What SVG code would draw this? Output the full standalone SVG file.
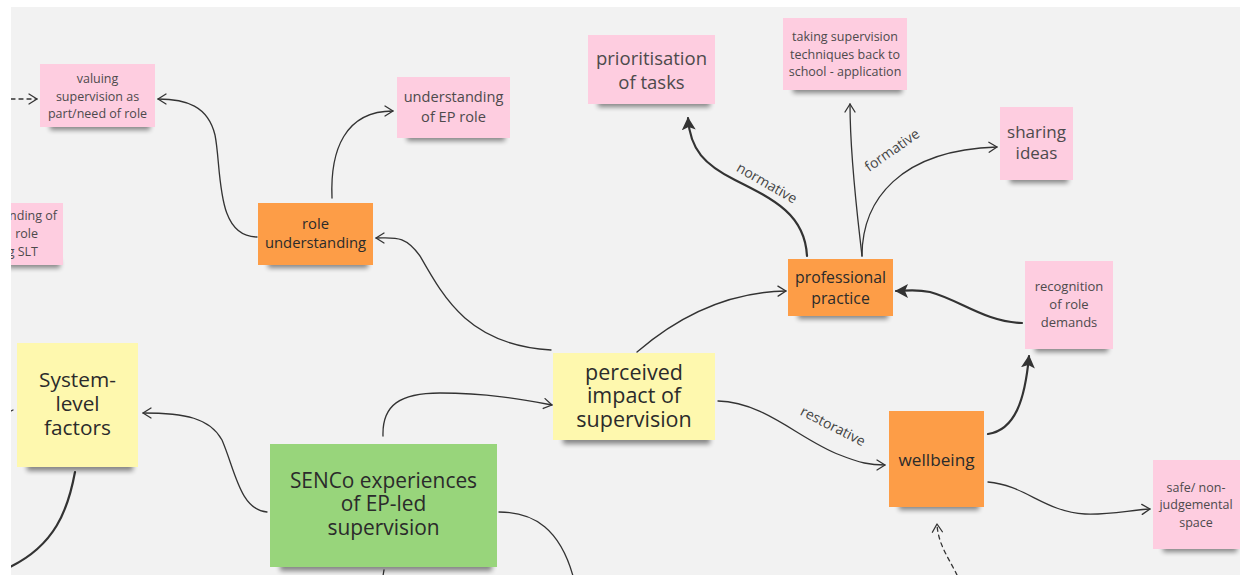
<svg xmlns="http://www.w3.org/2000/svg" width="1240" height="575" viewBox="0 0 1240 575">
  <style>
    text { font-family: "Open Sans", "Noto Sans", "Liberation Sans", sans-serif; text-anchor: middle; }
    .pink { fill: #fecde0; }
    .orange { fill: #fd9d47; }
    .yellow { fill: #fef8ae; }
    .green { fill: #98d57b; }
    .shade { fill: #000; opacity: 0.45; filter: url(#soft); }
    .ink-soft { fill: #4d4a4c; }
    .ink { fill: #2b2b2b; }
    .wire { fill: none; stroke: #333; stroke-width: 1.3; stroke-linecap: round; }
    .wire-bold { fill: none; stroke: #333; stroke-width: 2.2; stroke-linecap: round; }
    .dash { stroke-dasharray: 4 4; }
    .open { marker-end: url(#chevron); }
    .solid { marker-end: url(#head); }
    .tag { fill: #444; font-size: 14px; }
  </style>
  <defs>
    <filter id="soft" x="-20%" y="-100%" width="140%" height="300%">
      <feGaussianBlur stdDeviation="2.5"/>
    </filter>
    <marker id="chevron" markerUnits="userSpaceOnUse" markerWidth="12" markerHeight="14" refX="9" refY="6" orient="auto">
      <path d="M1,1 L9,6 L1,11" fill="none" stroke="#333" stroke-width="1.3" stroke-linecap="round" stroke-linejoin="round"/>
    </marker>
    <marker id="head" markerUnits="userSpaceOnUse" markerWidth="16" markerHeight="16" refX="12" refY="7" orient="auto">
      <path d="M0,0 L13,7 L0,14 L3,7 z" fill="#333"/>
    </marker>
    <clipPath id="board">
      <rect x="11" y="7" width="1229" height="568"/>
    </clipPath>
  </defs>

  <!-- canvas -->
  <rect x="0" y="0" width="1240" height="575" fill="#ffffff"/>
  <rect x="11" y="7" width="1229" height="568" fill="#f2f2f2"/>

  <g clip-path="url(#board)">
    <!-- connectors -->
    <g id="connectors">
      <path class="wire dash open" d="M11,99 L37,99"/>
      <path class="wire open" d="M257,237 C215,237 222,170 215,135 C208,106 186,99 158,99"/>
      <path class="wire open" d="M332,198 C330,150 345,111 393,111"/>
      <path class="wire open" d="M551,350 C470,345 445,300 420,256 C405,235 395,238 376,238"/>
      <path class="wire open" d="M637,352 C680,315 730,292 786,291"/>
      <path class="wire-bold solid" d="M807,256 C805,215 775,200 735,180 C705,165 690,150 688,118"/>
      <path class="wire open" d="M862,256 C858,220 850,160 850,104"/>
      <path class="wire open" d="M862,256 C862,200 900,150 997,147"/>
      <path class="wire-bold solid" d="M1022,323 C985,322 960,300 930,292 C915,289 905,291 896,291"/>
      <path class="wire-bold solid" d="M988,434 C1015,430 1025,400 1029,356"/>
      <path class="wire open" d="M718,401 C765,402 800,440 840,455 C860,463 870,465 885,465"/>
      <path class="wire open" d="M988,482 C1025,485 1045,512 1085,514 C1110,515 1130,510 1150,509"/>
      <path class="wire dash open" d="M957,575 C950,560 938,545 937,524"/>
      <path class="wire open" d="M267,512 C240,510 235,470 222,440 C210,418 185,413 143,413"/>
      <path class="wire-bold" d="M75,472 C68,510 55,545 10,567"/>
      <path class="wire open" d="M383,436 C382,405 400,393 440,393 C490,393 525,400 552,405"/>
      <path class="wire" d="M499,512 C535,512 560,530 573,576"/>
      <path class="wire" d="M384,570 L383,576"/>
      <path class="wire" d="M11,411 L13,410"/>
      <text class="tag" transform="translate(767,183) rotate(30)" dy="5">normative</text>
      <text class="tag" transform="translate(892,150) rotate(-35)" dy="5">formative</text>
      <text class="tag" transform="translate(833,426) rotate(27)" dy="5">restorative</text>
    </g>

    <!-- sticky notes -->
    <g id="valuing-supervision">
      <rect class="shade" x="50" y="122" width="100" height="8"/>
      <rect class="pink" x="40" y="64" width="115" height="63"/>
      <text class="ink-soft" font-size="12.5"><tspan x="97.5" y="83">valuing</tspan><tspan x="97.5" y="100.5">supervision as</tspan><tspan x="97.5" y="118">part/need of role</tspan></text>
    </g>

    <g id="slt-role">
      <rect class="shade" x="8" y="260" width="52" height="8"/>
      <rect class="pink" x="0" y="203" width="63" height="62"/>
      <text class="ink-soft" font-size="12.5" style="text-anchor:end"><tspan x="57" y="219.5">nding of</tspan><tspan x="38" y="237.5">role</tspan><tspan x="38" y="255.5">g SLT</tspan></text>
    </g>

    <g id="understanding-ep-role">
      <rect class="shade" x="407" y="133" width="98" height="8"/>
      <rect class="pink" x="397" y="77" width="113" height="61"/>
      <text class="ink-soft" font-size="14.6"><tspan x="453.5" y="102">understanding</tspan><tspan x="453.5" y="122">of EP role</tspan></text>
    </g>

    <g id="role-understanding">
      <rect class="shade" x="268" y="260" width="100" height="8"/>
      <rect class="orange" x="258" y="203" width="115" height="62"/>
      <text class="ink" font-size="14.8"><tspan x="315.5" y="229">role</tspan><tspan x="315.5" y="248">understanding</tspan></text>
    </g>

    <g id="prioritisation">
      <rect class="shade" x="598" y="99" width="112" height="8"/>
      <rect class="pink" x="588" y="35" width="127" height="69"/>
      <text class="ink-soft" font-size="18.5"><tspan x="651.5" y="64.5">prioritisation</tspan><tspan x="651.5" y="88.5">of tasks</tspan></text>
    </g>

    <g id="supervision-techniques">
      <rect class="shade" x="793" y="85" width="109" height="8"/>
      <rect class="pink" x="783" y="18" width="124" height="72"/>
      <text class="ink-soft" font-size="12.5"><tspan x="845" y="41">taking supervision</tspan><tspan x="845" y="58.5">techniques back to</tspan><tspan x="845" y="76">school - application</tspan></text>
    </g>

    <g id="sharing-ideas">
      <rect class="shade" x="1010" y="175" width="58" height="8"/>
      <rect class="pink" x="1000" y="107" width="73" height="73"/>
      <text class="ink-soft" font-size="17"><tspan x="1036.5" y="138">sharing</tspan><tspan x="1036.5" y="159">ideas</tspan></text>
    </g>

    <g id="professional-practice">
      <rect class="shade" x="798" y="311" width="90" height="8"/>
      <rect class="orange" x="788" y="259" width="105" height="57"/>
      <text class="ink" font-size="15.8"><tspan x="840.5" y="283">professional</tspan><tspan x="840.5" y="304">practice</tspan></text>
    </g>

    <g id="role-demands">
      <rect class="shade" x="1035" y="344" width="73" height="8"/>
      <rect class="pink" x="1025" y="261" width="88" height="88"/>
      <text class="ink-soft" font-size="13"><tspan x="1069" y="290.5">recognition</tspan><tspan x="1069" y="308.5">of role</tspan><tspan x="1069" y="326.5">demands</tspan></text>
    </g>

    <g id="wellbeing">
      <rect class="shade" x="899" y="502" width="80" height="8"/>
      <rect class="orange" x="889" y="411" width="95" height="96"/>
      <text class="ink" font-size="17.2" x="936.5" y="466">wellbeing</text>
    </g>

    <g id="safe-space">
      <rect class="shade" x="1163" y="544" width="74" height="8"/>
      <rect class="pink" x="1153" y="460" width="90" height="89"/>
      <text class="ink-soft" font-size="12.5"><tspan x="1196" y="491.5">safe/ non-</tspan><tspan x="1196" y="508.5">judgemental</tspan><tspan x="1196" y="526.5">space</tspan></text>
    </g>

    <g id="system-level-factors">
      <rect class="shade" x="27" y="462" width="106" height="9"/>
      <rect class="yellow" x="17" y="343" width="121" height="124"/>
      <text class="ink" font-size="20.8"><tspan x="77.5" y="387">System-</tspan><tspan x="77.5" y="411">level</tspan><tspan x="77.5" y="435">factors</tspan></text>
    </g>

    <g id="perceived-impact">
      <rect class="shade" x="563" y="435" width="147" height="9"/>
      <rect class="yellow" x="553" y="353" width="162" height="87"/>
      <text class="ink" font-size="21.5"><tspan x="634" y="379.5">perceived</tspan><tspan x="634" y="403">impact of</tspan><tspan x="634" y="427">supervision</tspan></text>
    </g>

    <g id="senco-experiences">
      <rect class="shade" x="280" y="562" width="212" height="9"/>
      <rect class="green" x="270" y="444" width="227" height="123"/>
      <text class="ink" font-size="20.9"><tspan x="383.5" y="487.5">SENCo experiences</tspan><tspan x="383.5" y="510.5">of EP-led</tspan><tspan x="383.5" y="534.5">supervision</tspan></text>
    </g>
  </g>
</svg>
